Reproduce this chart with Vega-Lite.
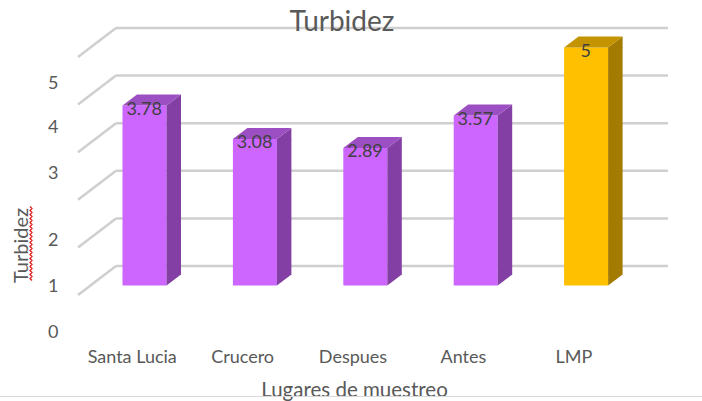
{"$schema":"https://vega.github.io/schema/vega-lite/v6.json","width":552,"height":345,"autosize":{"type":"none"},"padding":{"left":116,"top":0,"right":34,"bottom":56},"background":"white","view":{"stroke":null},
"title":{"text":"Turbidez","font":"Lato","fontSize":28,"fontWeight":"normal","color":"#595959","anchor":"middle","dx":-50,"offset":-37},
"datasets":{"bars":[{"lugar":"Santa Lucia","valor":3.78,"grupo":"Muestreo"},{"lugar":"Crucero","valor":3.08,"grupo":"Muestreo"},{"lugar":"Despues","valor":2.89,"grupo":"Muestreo"},{"lugar":"Antes","valor":3.57,"grupo":"Muestreo"},{"lugar":"LMP","valor":5,"grupo":"LMP"}],"grid":[{"v":0},{"v":1},{"v":2},{"v":3},{"v":4},{"v":5}]},
"layer":[
{"data":{"values":[{}]},"mark":{"type":"point","size":4,"filled":false,"opacity":1,"stroke":"#d9d9d9","strokeWidth":1,"shape":"M-392,224 L310,224"},"encoding":{}},
{"data":{"values":[{}]},"mark":{"type":"point","size":4,"filled":false,"opacity":1,"stroke":"#e02020","strokeWidth":1.3,"shape":"M-362,34 l2,2 l-2,2 l2,2 l-2,2 l2,2 l-2,2 l2,2 l-2,2 l2,2 l-2,2 l2,2 l-2,2 l2,2 l-2,2 l2,2 l-2,2 l2,2 l-2,2 l2,2 l-2,2 l2,2 l-2,2 l2,2 l-2,2 l2,2 l-2,2 l2,2 l-2,2 l2,2 l-2,2 l2,2 l-2,2 l2,2 l-2,2 l2,2 l-2,2 l2,2"},"encoding":{}},
{"data":{"name":"grid"},"mark":{"type":"rule","stroke":"#cfcfcf","strokeWidth":2.5,"yOffset":-19.5},"encoding":{"y":{"field":"v","type":"quantitative","scale":{"domain":[-1.25,5.998],"nice":false,"zero":false},"axis":{"values":[-0.977,-0.011,0.935,2.343,3.309,4.254],"labelExpr":"indexof([-0.977,-0.011,0.935,2.343,3.309,4.254],datum.value)","grid":false,"ticks":false,"domain":false,"labelPadding":58,"labelFont":"Lato","labelFontSize":18,"labelColor":"#595959","title":"Turbidez","titleFont":"Lato","titleFontSize":20,"titleFontWeight":"normal","titleColor":"#595959","titleX":-95,"titleY":245,"titleAngle":270,"titleAlign":"center","titleBaseline":"middle"}}}},
{"data":{"name":"grid"},"mark":{"type":"point","size":4,"filled":false,"opacity":1,"stroke":"#cfcfcf","strokeWidth":2.5,"yOffset":-19.5,"shape":"M-276,0 L-314,29"},"encoding":{"y":{"field":"v","type":"quantitative"}}},
{"data":{"name":"bars"},"mark":{"type":"bar","width":44,"xOffset":-26.7},"encoding":{"x":{"field":"lugar","type":"nominal","sort":null,"scale":{"paddingInner":0.6,"paddingOuter":0.3},"axis":{"labelAngle":0,"ticks":false,"domain":false,"labelOffset":-39,"labelPadding":3,"labelFont":"Lato","labelFontSize":18,"labelColor":"#595959","title":"Lugares de muestreo","titleFont":"Lato","titleFontSize":20.5,"titleFontWeight":"normal","titleColor":"#595959","titleX":238,"titleY":45,"titleAlign":"center","titleBaseline":"middle"}},"y":{"field":"valor","type":"quantitative","stack":null},"y2":{"datum":0},"color":{"field":"grupo","type":"nominal","legend":null,"scale":{"domain":["Muestreo","LMP"],"range":["#CC66FF","#FFC000"]}}}},
{"data":{"name":"bars"},"mark":{"type":"bar","width":14.5,"xOffset":2.55,"y2Offset":-11},"encoding":{"x":{"field":"lugar","type":"nominal","sort":null},"y":{"field":"valor","type":"quantitative","stack":null},"y2":{"datum":0},"color":{"field":"grupo","type":"nominal","legend":null,"scale":{"domain":["Muestreo","LMP"],"range":["#833FA3","#A37B00"]}}}},
{"data":{"name":"bars"},"mark":{"type":"point","size":4,"filled":true,"opacity":1,"shape":"M-4.7,0 L9.8,-11 L9.8,0.5 L-4.7,0.5 Z"},"encoding":{"x":{"field":"lugar","type":"nominal","sort":null},"y":{"field":"valor","type":"quantitative"},"color":{"field":"grupo","type":"nominal","legend":null,"scale":{"domain":["Muestreo","LMP"],"range":["#833FA3","#A37B00"]}}}},
{"data":{"name":"bars"},"mark":{"type":"point","size":4,"filled":true,"opacity":1,"shape":"M-4.7,0 L9.8,-11 L9.8,-11.5 L-4.7,-11.5 Z"},"encoding":{"x":{"field":"lugar","type":"nominal","sort":null},"y":{"datum":0},"color":{"field":"grupo","type":"nominal","legend":null,"scale":{"domain":["Muestreo","LMP"],"range":["#833FA3","#A37B00"]}}}},
{"data":{"name":"bars"},"mark":{"type":"point","size":4,"filled":true,"opacity":1,"shape":"M-48.7,0 L-4.7,0 L9.8,-11 L-34.2,-11 Z"},"encoding":{"x":{"field":"lugar","type":"nominal","sort":null},"y":{"field":"valor","type":"quantitative"},"color":{"field":"grupo","type":"nominal","legend":null,"scale":{"domain":["Muestreo","LMP"],"range":["#9C4FC2","#C49400"]}}}},
{"data":{"name":"bars"},"mark":{"type":"text","font":"Lato","fontSize":18,"color":"#404040","xOffset":-27,"yOffset":4,"baseline":"middle"},"encoding":{"x":{"field":"lugar","type":"nominal","sort":null},"y":{"field":"valor","type":"quantitative"},"text":{"field":"valor","type":"quantitative"}}}
],
"resolve":{"scale":{"color":"independent"}}}
